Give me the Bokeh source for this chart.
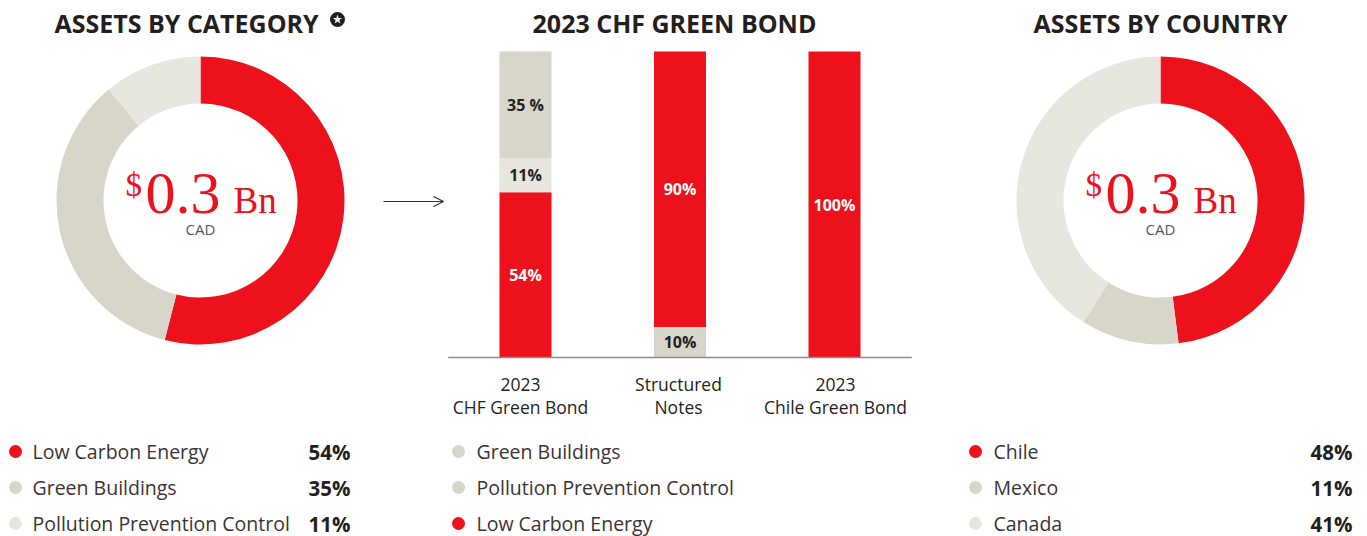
import math
from bokeh.plotting import figure
from bokeh.layouts import row
from bokeh.models import Range1d, FactorRange, Arrow, OpenHead, ColumnDataSource
from bokeh.core.properties import value
from bokeh.embed import file_html
from bokeh.resources import INLINE

# ---------------- data ----------------
category_labels = ["Low Carbon Energy", "Green Buildings", "Pollution Prevention Control"]
category_values = [54, 35, 11]
country_labels = ["Chile", "Mexico", "Canada"]
country_values = [48, 11, 41]

bond_names = ["2023 CHF Green Bond", "Structured Notes", "2023 Chile Green Bond"]
bond_label_line1 = ["2023", "Structured", "2023"]
bond_label_line2 = ["CHF Green Bond", "Notes", "Chile Green Bond"]
low_carbon = [54, 90, 100]
green_buildings = [35, 10, 0]
pollution_prevention = [11, 0, 0]
# stacking order (bottom -> top) for each bar and the printed labels
stack_order = [["Low Carbon Energy", "Pollution Prevention Control", "Green Buildings"],
               ["Green Buildings", "Low Carbon Energy"],
               ["Low Carbon Energy"]]
stack_texts = [["54%", "11%", "35 %"], ["10%", "90%"], ["100%"]]
bond_legend = ["Green Buildings", "Pollution Prevention Control", "Low Carbon Energy"]

total_value = "0.3"
currency = "CAD"

# ---------------- style ----------------
RED = "#EC111A"
GREY = "#D8D5CB"
LIGHT = "#E7E6DF"
DARK = "#231F20"
TXT = "#3A3335"
H = 536
SANS = value("Open Sans")
SERIF = value("Liberation Serif")

series_color = {"Low Carbon Energy": RED, "Green Buildings": GREY,
                "Pollution Prevention Control": LIGHT}
series_values = {"Low Carbon Energy": low_carbon, "Green Buildings": green_buildings,
                 "Pollution Prevention Control": pollution_prevention}


def base_fig(w, xr, yr):
    p = figure(width=w, height=H, x_range=xr, y_range=yr, output_backend="svg",
               toolbar_location=None, x_axis_location=None, y_axis_location=None,
               min_border=0, tools="")
    p.grid.visible = False
    p.outline_line_color = None
    p.background_fill_color = "white"
    p.border_fill_color = "white"
    return p


def donut(p, cx, cy, values, colors):
    total = float(sum(values))
    cum = 0.0
    starts, ends = [], []
    for v in values:
        starts.append(math.pi / 2 - 2 * math.pi * cum / total)
        cum += v
        ends.append(math.pi / 2 - 2 * math.pi * cum / total)
    src = ColumnDataSource(dict(start=starts, end=ends, color=colors))
    p.annular_wedge(x=cx, y=cy, inner_radius=97, outer_radius=144, start_angle="start",
                    end_angle="end", direction="clock", fill_color="color",
                    line_color=None, source=src)


def center_label(p, cx, ymap):
    p.text(x=[cx - 75], y=[ymap(184)], text=["$"], text_font=SERIF, text_font_size="33px",
           text_color=RED, text_align="left", text_baseline="middle")
    p.text(x=[cx - 55], y=[ymap(193)], text=[total_value], text_font=SERIF,
           text_font_size="60px", text_color=RED, text_align="left", text_baseline="middle")
    p.text(x=[cx + 33], y=[ymap(200)], text=["Bn"], text_font=SERIF, text_font_size="37px",
           text_color=RED, text_align="left", text_baseline="middle")
    p.text(x=[cx], y=[ymap(228)], text=[currency], text_font=SANS, text_font_size="15px",
           text_color="#555555", text_align="center", text_baseline="middle")


dots_px = [451, 487, 523]


def legend(p, xmap, ymap, x_dot, x_text, labels, colors, pcts=None, x_pct=None):
    ys = [ymap(v) for v in dots_px[:len(labels)]]
    p.scatter(x=[xmap(x_dot)] * len(labels), y=ys, size=13, fill_color=colors, line_color=None)
    p.text(x=[xmap(x_text)] * len(labels), y=ys, text=labels, text_font=SANS,
           text_font_size="19.5px", text_color=TXT, text_align="left", text_baseline="middle")
    if pcts is not None:
        p.text(x=[xmap(x_pct)] * len(labels), y=ys, text=["%d%%" % v for v in pcts],
               text_font=SANS, text_font_size="20.5px", text_font_style="bold",
               text_color=DARK, text_align="right", text_baseline="middle")


def title(p, x, ymap, txt, align):
    p.text(x=[x], y=[ymap(22)], text=[txt], text_font=SANS, text_font_size="25px",
           text_font_style="bold", text_color=DARK, text_align=align,
           text_baseline="middle")


# ---------------- left: assets by category ----------------
LW = 445
left = base_fig(LW, Range1d(0, LW), Range1d(0, H))
ly = lambda py: H - py
lx = lambda px: px
donut(left, 200, ly(200), category_values, [series_color[c] for c in category_labels])
center_label(left, 200, ly)
title(left, 54, ly, "ASSETS BY CATEGORY", "left")
left.scatter(x=[337], y=[ly(19)], size=15, fill_color=DARK, line_color=None)
left.scatter(x=[337], y=[ly(19)], marker="star", size=10, fill_color="white", line_color=None)
legend(left, lx, ly, 15, 32, category_labels, [RED, GREY, LIGHT], category_values, 350)
left.add_layout(Arrow(x_start=383, y_start=ly(201), x_end=443, y_end=ly(201),
                      line_color="#333333", line_width=1.2,
                      end=OpenHead(size=10, line_color="#333333", line_width=1.2)))

# ---------------- middle: stacked bars ----------------
MX0 = 445
MW = 469
unit_px = 154.5
pad_side = (MW / unit_px - len(bond_names)) / 2
px_per_pct = 3.06
base_px = 357
mid = base_fig(MW, FactorRange(*bond_names, range_padding=pad_side,
                               range_padding_units="absolute"),
               Range1d(-(H - base_px) / px_per_pct, base_px / px_per_pct))
my = lambda py: (base_px - py) / px_per_pct
mx = lambda px: (px - MX0) / unit_px - pad_side

xs, bottoms, tops, mids, cols, labs, lcols = [], [], [], [], [], [], []
for i, name in enumerate(bond_names):
    cum = 0
    for series, lab in zip(stack_order[i], stack_texts[i]):
        v = series_values[series][i]
        xs.append(name)
        bottoms.append(cum)
        tops.append(cum + v)
        mids.append(cum + v / 2)
        cols.append(series_color[series])
        labs.append(lab)
        lcols.append("white" if series == "Low Carbon Energy" else DARK)
        cum += v
bsrc = ColumnDataSource(dict(x=xs, bottom=bottoms, top=tops, mid=mids, color=cols,
                             label=labs, lcolor=lcols))
mid.vbar(x="x", width=52 / unit_px, bottom="bottom", top="top", fill_color="color",
         line_color=None, source=bsrc)
mid.text(x="x", y="mid", text="label", text_color="lcolor", text_font=SANS,
         text_font_size="16px", text_font_style="bold", text_align="center",
         text_baseline="middle", source=bsrc)
mid.segment(x0=[0], y0=[0], x1=[len(bond_names)], y1=[0], line_color="#8C8C8C", line_width=1.3)
mid.text(x=[mx(520), mx(678), mx(835)], y=[my(383.5)] * 3, text=bond_label_line1, text_font=SANS,
         text_font_size="17.5px", text_color=DARK, text_align="center", text_baseline="middle")
mid.text(x=[mx(520), mx(678), mx(835)], y=[my(406)] * 3, text=bond_label_line2, text_font=SANS,
         text_font_size="17.5px", text_color=DARK, text_align="center", text_baseline="middle")
title(mid, mx(674), my, "2023 CHF GREEN BOND", "center")
legend(mid, mx, my, 458, 476, bond_legend, [GREY, GREY, RED])

# ---------------- right: assets by country ----------------
RX0 = MX0 + MW
RW = 1367 - RX0
right = base_fig(RW, Range1d(0, RW), Range1d(0, H))
ry = lambda py: H - py
rx = lambda px: px - RX0
donut(right, rx(1160), ry(200), country_values, [RED, GREY, LIGHT])
center_label(right, rx(1160), ry)
title(right, rx(1160), ry, "ASSETS BY COUNTRY", "center")
legend(right, rx, ry, 975, 993, country_labels, [RED, GREY, LIGHT], country_values, 1352)

layout = row(left, mid, right, spacing=0)
open("out.html", "w").write(file_html(layout, INLINE))
